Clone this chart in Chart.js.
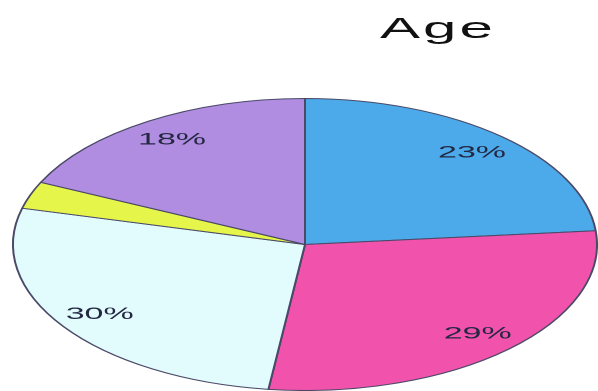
<!DOCTYPE html>
<html>
<head>
<meta charset="utf-8">
<script src="https://cdn.jsdelivr.net/npm/chart.js@4/dist/chart.umd.min.js"></script>
<style>
  html, body { margin: 0; padding: 0; background: #fff; overflow: hidden; }
  /* the reference is a stretched screenshot: draw at half width, scale x2 */
  #wrap {
    position: absolute; left: 0; top: 0;
    width: 299px; height: 391px;
    transform: scaleX(2); transform-origin: 0 0;
  }
  #title {
    position: absolute; left: 190px; top: 13px;
    font: 30px "Liberation Sans", Arial, sans-serif;
    letter-spacing: 1.5px;
    line-height: 1; color: #111;
  }
</style>
</head>
<body>
<div id="wrap">
  <canvas id="pie"></canvas>
  <div id="title">Age</div>
</div>
<script>
// slices clockwise from 12 o'clock
const categories = ['Blue', 'Pink', 'Light blue', 'Yellow', 'Purple'];
const shares = [23.5, 28.5, 27, 3, 18];
const pctLabels = ['23%', '29%', '30%', '', '18%'];
const sliceColors = ['#4caaea', '#f052ac', '#e2fbfd', '#e6f54a', '#b08de0'];

// writes the percentage text inside each slice
const pctLabelPlugin = {
  id: 'pctLabels',
  afterDatasetsDraw(chart) {
    const ctx = chart.ctx;
    const meta = chart.getDatasetMeta(0);
    ctx.save();
    ctx.font = '17px "Liberation Sans", Arial, sans-serif';
    ctx.fillStyle = '#232842';
    ctx.textAlign = 'center';
    ctx.textBaseline = 'middle';
    meta.data.forEach((arc, i) => {
      const text = pctLabels[i];
      if (!text) return;
      const p = arc.getProps(['x', 'y', 'startAngle', 'endAngle', 'outerRadius']);
      const mid = (p.startAngle + p.endAngle) / 2;
      const r = p.outerRadius * 0.85;
      ctx.fillText(text, p.x + Math.cos(mid) * r, p.y + Math.sin(mid) * r);
    });
    ctx.restore();
  }
};

new Chart(document.getElementById('pie'), {
  type: 'pie',
  data: {
    labels: categories,
    datasets: [{
      data: shares,
      backgroundColor: sliceColors,
      borderColor: '#4a4a68',
      borderWidth: 1,
    }],
  },
  options: {
    responsive: true,
    maintainAspectRatio: false,
    devicePixelRatio: 2,
    animation: false,
    layout: { padding: { top: 98, bottom: 0, left: 6, right: 0 } },
    plugins: {
      legend: { display: false },
      tooltip: { enabled: false },
    },
  },
  plugins: [pctLabelPlugin],
});
</script>
</body>
</html>
